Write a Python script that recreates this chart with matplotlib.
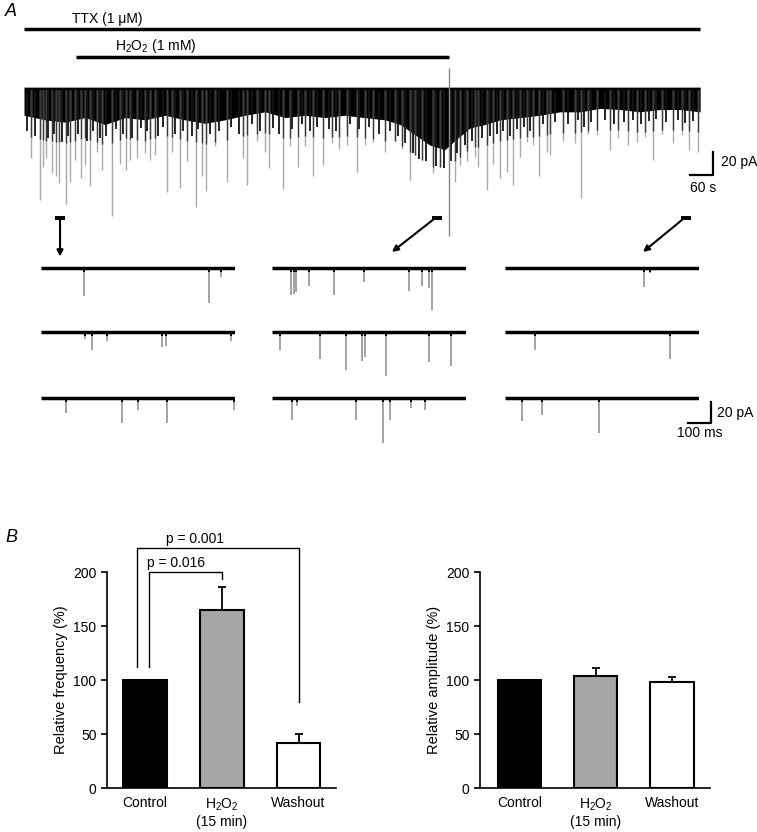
import matplotlib
matplotlib.use('Agg')
import matplotlib.pyplot as plt
import numpy as np

plt.rcParams['font.family'] = ['Liberation Sans', 'DejaVu Sans']
plt.rcParams['mathtext.fontset'] = 'custom'
plt.rcParams['mathtext.rm'] = 'Liberation Sans'
plt.rcParams['mathtext.default'] = 'regular'

W, H = 757, 832

# ---- panel A, continuous recording (time in s, current in pA) ----
rec_len = 1764
h2o2_on, h2o2_off = 136, 1109
artifact_t = 1109
marker_t = [94, 1077, 1727]

# lower edge of the dense noise band
band_t = [0, 55, 107, 159, 211, 264, 316, 368, 420, 472, 524, 576, 629, 681, 733, 785, 837, 889,
          942, 981, 1020, 1059, 1098, 1124, 1164, 1203, 1242, 1294, 1346, 1398, 1451, 1503, 1555,
          1607, 1659, 1711, 1764]
band_depth = [22, 26, 28, 24, 30, 24, 26, 22, 26, 29, 26, 22, 19, 24, 22, 24, 22, 24,
              26, 30, 39, 48, 52, 44, 33, 30, 26, 24, 22, 19, 19, 16, 17,
              19, 17, 17, 19]

# medium events that stay dark just under the band
mid_t = [8, 30, 63, 78, 100, 115, 140, 165, 180, 197, 215, 240, 258, 283, 305, 322, 350, 362,
         395, 415, 438, 455, 485, 510, 540, 560, 595, 615, 650, 665, 700, 725, 745, 765, 795,
         815, 850, 875, 900, 925, 955, 975, 995, 1015, 1030, 1050, 1075, 1095, 1115, 1130,
         1150, 1170, 1195, 1215, 1235, 1250, 1268, 1285, 1305, 1320, 1355, 1385, 1420, 1445,
         1460, 1480, 1515, 1540, 1565, 1590, 1610, 1630, 1650, 1675, 1705, 1725, 1745]
mid_depth = [36, 40, 42, 38, 45, 40, 38, 44, 36, 42, 40, 34, 38, 42, 33, 36, 40, 32,
             38, 36, 40, 34, 38, 36, 32, 38, 30, 36, 33, 38, 34, 30, 36, 32, 34,
             36, 30, 34, 32, 38, 36, 40, 46, 55, 60, 62, 66, 68, 62, 55,
             48, 44, 42, 40, 38, 36, 40, 34, 32, 36, 30, 28, 30, 26,
             32, 28, 26, 30, 28, 26, 30, 27, 25, 28, 26, 29, 27]

# large mEPSCs standing out of the band
spike_t = [17, 42, 49, 57, 72, 84, 92, 110, 120, 133, 148, 159, 172, 190, 203, 229, 250, 266,
           277, 294, 316, 329, 342, 372, 385, 407, 424, 449, 464, 475, 498, 529, 571, 583, 607,
           629, 639, 675, 694, 716, 733, 753, 779, 803, 823, 842, 868, 890, 911, 942, 968, 985,
           1007, 1020, 1038, 1068, 1085, 1124, 1138, 1155, 1177, 1185, 1207, 1224, 1242, 1259,
           1275, 1294, 1312, 1329, 1344, 1364, 1372, 1407, 1438, 1453, 1472, 1494, 1529, 1551,
           1577, 1599, 1620, 1640, 1664, 1694, 1716, 1736, 1759]
spike_amp = [59, 96, 67, 59, 72, 75, 81, 99, 80, 61, 77, 65, 84, 54, 70, 110, 64, 70,
             61, 59, 55, 61, 57, 89, 54, 85, 62, 102, 75, 88, 49, 80, 59, 83, 44,
             54, 68, 86, 49, 67, 49, 75, 65, 46, 51, 48, 71, 48, 45, 54, 44, 51,
             78, 57, 61, 72, 67, 80, 65, 62, 58, 67, 87, 64, 77, 71,
             83, 58, 45, 48, 75, 54, 57, 44, 46, 94, 38, 39, 52, 42,
             48, 45, 41, 61, 38, 46, 39, 52, 54]

# ---- panel A, expanded sweeps (time in ms, current in pA) ----
sweep_ms = 810
ctrl_ev_t = [[178, 701, 753],
             [183, 211, 274, 507, 521, 792],
             [104, 337, 404, 525, 807]]
ctrl_ev_amp = [[27, 33, 9],
               [7, 17, 9, 14, 13, 9],
               [14, 24, 11, 24, 11]]
h2o2_ev_t = [[81, 90, 101, 154, 257, 383, 571, 626, 657, 668],
             [32, 199, 310, 376, 390, 474, 657, 747],
             [83, 104, 349, 463, 494, 582, 640]]
h2o2_ev_amp = [[26, 25, 23, 17, 26, 13, 22, 17, 19, 40],
               [17, 26, 36, 28, 24, 42, 29, 32],
               [21, 8, 21, 43, 21, 10, 11]]
wash_ev_t = [[579, 604],
             [125, 688],
             [69, 153, 393]]
wash_ev_amp = [[18, 5],
               [17, 26],
               [22, 16, 33]]

# ---- panel B ----
conditions = ['Control', 'H$_2$O$_2$\n(15 min)', 'Washout']
freq_mean = [100, 165, 41.5]
freq_sem = [0, 21, 8.5]
amp_mean = [100, 104, 98]
amp_sem = [0, 7, 5]
bar_colors = ['black', '#a6a6a6', 'white']


fig = plt.figure(figsize=(W / 100, H / 100), dpi=100)


def px_axes(x0, y0, x1, y1):
    return fig.add_axes([x0 / W, 1 - y1 / H, (x1 - x0) / W, (y1 - y0) / H])


# long recording
ax = px_axes(24, 5, 740, 260)
ax.set_xlim(0, 1868)
ax.set_ylim(-148, 74)
ax.axis('off')

spike_t = np.array(spike_t)
spike_amp = np.array(spike_amp)
ax.vlines(spike_t, 0, -spike_amp, color='#acacac', lw=1.0)
ax.fill_between(band_t, -np.array(band_depth), 2.5, color='black', lw=0)
dark = np.minimum(spike_amp, np.interp(spike_t, band_t, band_depth) + 18)
ax.vlines(spike_t, 0, -dark, color='#3a3a3a', lw=1.0)
ax.vlines(mid_t, 0, -np.array(mid_depth), color='#141414', lw=1.3)
ax.vlines(artifact_t, -127, 19, color='#888888', lw=1.0)

ax.hlines(53, 0, rec_len, color='black', lw=2.5)
ax.text(125, 62, 'TTX (1 \u03bcM)', fontsize=10, va='center')
ax.hlines(29, h2o2_on, h2o2_off, color='black', lw=2.5)
ax.text(237, 38, 'H$_2$O$_2$ (1 mM)', fontsize=10, va='center')

# scale bar 20 pA / 60 s
ax.plot([1737, 1797, 1797], [-74, -74, -54], color='black', lw=1.6)
ax.text(1818, -63, '20 pA', fontsize=10, va='center')
ax.text(1772, -85, '60 s', fontsize=10, va='center', ha='center')

# markers + arrows to the expanded sweeps
ax.bar(marker_t, 3.5, bottom=-113, width=26, color='black')
arrow_ends = [(marker_t[0], -145), (960, -141), (1615, -141)]
arrow_starts = [(marker_t[0], -113), (marker_t[1] - 10, -113), (marker_t[2] - 10, -113)]
for (x0, y0), (x1, y1) in zip(arrow_starts, arrow_ends):
    ax.annotate('', xy=(x1, y1), xytext=(x0, y0),
                arrowprops=dict(arrowstyle='-|>', lw=1.5, color='black', mutation_scale=9,
                                shrinkA=0, shrinkB=0))

# expanded sweeps
col_x = [41, 272, 505]
row_y = [260, 324, 390]
groups = [(ctrl_ev_t, ctrl_ev_amp), (h2o2_ev_t, h2o2_ev_amp), (wash_ev_t, wash_ev_amp)]
for c, (ev_t, ev_amp) in enumerate(groups):
    for r in range(3):
        sx = px_axes(col_x[c], row_y[r], col_x[c] + 194, row_y[r] + 56)
        sx.set_xlim(0, sweep_ms)
        sx.set_ylim(-45.7, 7.6)
        sx.axis('off')
        a = np.array(ev_amp[r])
        sx.vlines(ev_t[r], 0, -a, color='#8a8a8a', lw=1.1)
        sx.hlines(0, 0, sweep_ms, color='black', lw=2.5)
        sx.vlines(ev_t[r], 0, -np.minimum(a, 4), color='black', lw=1.4)
        if c == 2 and r == 2:
            sx.plot([762, 862, 862], [-23.8, -23.8, -3.8], color='black', lw=1.6, clip_on=False)
            sx.text(887, -14, '20 pA', fontsize=10, va='center', clip_on=False)
            sx.text(812, -33, '100 ms', fontsize=10, va='center', ha='center', clip_on=False)

fig.text(5 / W, 1 - 12 / H, 'A', fontsize=13, style='italic', va='center')
fig.text(5 / W, 1 - 537 / H, 'B', fontsize=13, style='italic', va='center')


def bar_panel(bx, means, sems, ylabel):
    x = np.arange(len(means))
    bx.bar(x, means, width=0.57, color=bar_colors, edgecolor='black', lw=1.5, zorder=2)
    for xi, m, s in zip(x, means, sems):
        if s > 0:
            bx.errorbar(xi, m, yerr=[[0], [s]], fmt='none', ecolor='black', elinewidth=1.3,
                        capsize=3, capthick=1.3, zorder=1)
    bx.set_ylim(0, 200)
    bx.set_yticks([0, 50, 100, 150, 200])
    bx.set_xticks(x)
    bx.set_xticklabels(conditions, fontsize=10)
    bx.tick_params(axis='x', length=0, pad=6)
    bx.tick_params(axis='y', direction='out', length=4, width=1.2, labelsize=10)
    bx.spines['top'].set_visible(False)
    bx.spines['right'].set_visible(False)
    bx.spines['left'].set_linewidth(1.2)
    bx.spines['bottom'].set_linewidth(1.2)
    bx.set_ylabel(ylabel, fontsize=10.5)


bl = px_axes(107, 572, 336, 788)
bl.set_xlim(-0.494, 2.487)
bar_panel(bl, freq_mean, freq_sem, 'Relative frequency (%)')
bl.plot([-0.108, -0.108, 2, 2], [112, 222, 222, 80], color='black', lw=1.0, clip_on=False)
bl.text(0.65, 230.5, 'p = 0.001', fontsize=10, ha='center', va='center')
bl.plot([0.052, 0.052, 1, 1], [112, 200, 200, 193.5], color='black', lw=1.0, clip_on=False)
bl.text(0.41, 208.5, 'p = 0.016', fontsize=10, ha='center', va='center')

br = px_axes(480, 572, 710, 788)
br.set_xlim(-0.518, 2.498)
bar_panel(br, amp_mean, amp_sem, 'Relative amplitude (%)')

fig.savefig('out.png', dpi=100)
